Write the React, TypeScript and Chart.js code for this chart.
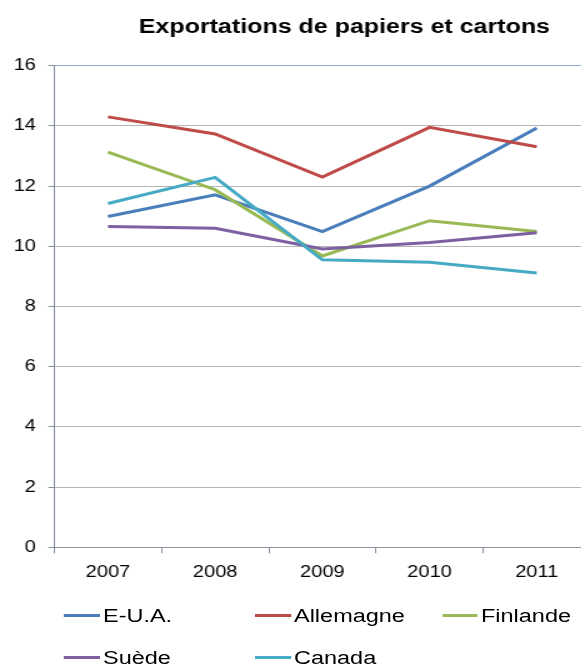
import React, { useEffect, useRef } from 'react';
import { Chart, registerables } from 'chart.js';

Chart.register(...registerables);

const TITLE = 'Exportations de papiers et cartons';
const years = ['2007', '2008', '2009', '2010', '2011'];
const seriesNames = ['E-U.A.', 'Allemagne', 'Finlande', 'Suède', 'Canada'];
const seriesColors = ['#4A7EBB', '#BE4B48', '#98B954', '#7D60A0', '#46AAC5'];
const euaValues = [10.99, 11.71, 10.49, 12.0, 13.93];
const allemagneValues = [14.3, 13.73, 12.3, 13.95, 13.31];
const finlandeValues = [13.13, 11.88, 9.68, 10.85, 10.49];
const suedeValues = [10.66, 10.6, 9.91, 10.13, 10.45];
const canadaValues = [11.42, 12.29, 9.55, 9.47, 9.11];
const yMin = 0;
const yMax = 16;
const yStep = 2;

const seriesValues = [euaValues, allemagneValues, finlandeValues, suedeValues, canadaValues];

const FONT = '"Liberation Sans", Arial, sans-serif';
const AXIS = '#8A929D';
const GRID = '#B4B4B4';
const TOPGRID = '#8FA8CF';
const SX = 1.25;
const CW = 551;
const CH = 590;
const legendCols = [51.2, 204, 353.6];
const legendRows = [615.5, 657.5];

export default function App() {
  const ref = useRef<HTMLCanvasElement>(null);

  useEffect(() => {
    if (!ref.current) return;
    const chart = new Chart(ref.current, {
      type: 'line',
      data: {
        labels: years,
        datasets: seriesValues.map((d, i) => ({
          label: seriesNames[i],
          data: d,
          borderColor: seriesColors[i],
          backgroundColor: seriesColors[i],
          borderWidth: 3,
          pointRadius: 0,
          pointHoverRadius: 0,
          tension: 0,
          fill: false,
          order: seriesNames.length - i,
          yAxisID: 'y',
        })),
      },
      options: {
        animation: false,
        responsive: false,
        devicePixelRatio: 1,
        layout: { padding: 0 },
        plugins: {
          legend: { display: false },
          tooltip: { enabled: false },
          title: {
            display: true,
            text: TITLE,
            color: '#000',
            font: { family: FONT, size: 20, weight: 'bold' },
            padding: { top: 15.3, bottom: 26.4 },
          },
        },
        scales: {
          x: {
            type: 'category',
            offset: true,
            grid: {
              offset: true,
              drawOnChartArea: false,
              drawTicks: true,
              tickLength: 6,
              tickColor: AXIS,
              lineWidth: 1,
            },
            border: { display: true, color: AXIS, width: 1 },
            ticks: {
              color: '#000',
              font: { family: FONT, size: 16 },
              padding: 10,
              maxRotation: 0,
              autoSkip: false,
            },
            afterFit: (s: any) => {
              s.height = CH - 547.3;
            },
          },
          y: {
            min: yMin,
            max: yMax,
            ticks: {
              stepSize: yStep,
              color: '#000',
              font: { family: FONT, size: 16 },
              padding: 10,
            },
            grid: {
              color: (ctx: any) => (ctx.tick && ctx.tick.value === yMax ? TOPGRID : GRID),
              tickColor: AXIS,
              tickLength: 4.8,
              lineWidth: 1,
            },
            border: { display: true, color: AXIS, width: 1 },
            afterFit: (s: any) => {
              s.width = 43.5;
            },
          },
          yRight: {
            position: 'right',
            min: yMin,
            max: yMax,
            ticks: { display: false },
            grid: { display: false, drawOnChartArea: false, drawTicks: false },
            border: { display: false },
            afterFit: (s: any) => {
              s.width = 78.7;
            },
          },
        },
      },
    });
    return () => chart.destroy();
  }, []);

  return (
    <div
      style={{
        position: 'fixed',
        left: 0,
        top: 0,
        width: 581,
        height: 669,
        overflow: 'hidden',
        background: '#fff',
      }}
    >
      <div
        style={{
          position: 'absolute',
          left: 0,
          top: 0,
          width: CW,
          height: 669,
          transform: `scaleX(${SX})`,
          transformOrigin: '0 0',
        }}
      >
        <canvas ref={ref} width={CW} height={CH} style={{ display: 'block' }} />
        {seriesNames.map((name, i) => (
          <div
            key={name}
            style={{
              position: 'absolute',
              left: legendCols[i % 3],
              top: legendRows[Math.floor(i / 3)] - 11,
              height: 22,
              display: 'flex',
              alignItems: 'center',
              whiteSpace: 'nowrap',
              fontFamily: FONT,
              fontSize: 18.8,
              lineHeight: '22px',
              color: '#000',
            }}
          >
            <span
              style={{
                display: 'inline-block',
                width: 28.8,
                height: 3,
                background: seriesColors[i],
                marginRight: 2.4,
              }}
            />
            <span>{name}</span>
          </div>
        ))}
      </div>
    </div>
  );
}
